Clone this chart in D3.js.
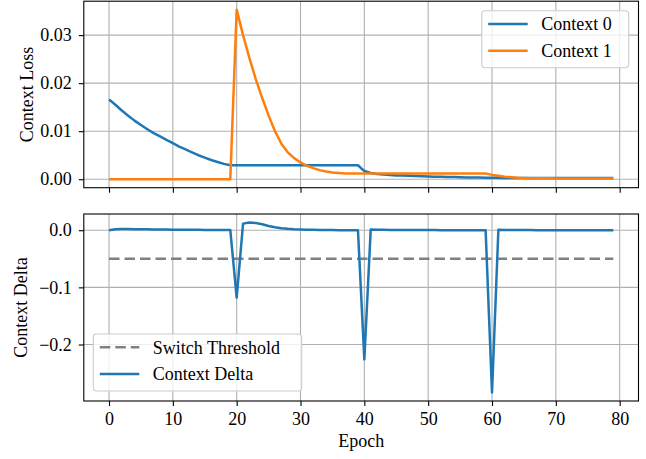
<!DOCTYPE html>
<html><head><meta charset="utf-8">
<script src="https://cdn.jsdelivr.net/npm/d3@7"></script>
<style>
html,body{margin:0;padding:0;background:#fff;}
svg text{font-family:"Liberation Serif","Times New Roman",serif;}
</style></head>
<body><svg id="c" width="646" height="459"></svg>
<script>
// ---- data ----
const epochs = d3.range(80);
const context0 = [
  0.0166,0.0155,0.0143,0.0132,0.0122,0.0113,0.0104,0.0096,0.0089,0.0082,
  0.0075,0.0068,0.0062,0.0056,0.0050,0.0045,0.0040,0.0036,0.0032,0.0029,
  0.0029,0.0029,0.0029,0.0029,0.0029,0.0029,0.0029,0.0029,0.0029,0.0029,
  0.0029,0.0029,0.0029,0.0029,0.0029,0.0029,0.0029,0.0029,0.0029,0.0029,
  0.0017,0.0013,0.0011,0.0010,0.0009,0.0008,0.00078,0.00072,0.00067,0.00062,
  0.00058,0.00054,0.00050,0.00047,0.00044,0.00041,0.00038,0.00036,0.00034,0.00032,
  0.00030,0.00029,0.00028,0.00028,0.00027,0.00027,0.00026,0.00026,0.00026,0.00025,
  0.00025,0.00025,0.00025,0.00024,0.00024,0.00024,0.00024,0.00024,0.00023,0.00023
];
const context1 = [
  0,0,0,0,0,0,0,0,0,0,
  0,0,0,0,0,0,0,0,0,0,
  0.0353,0.0300,0.0252,0.0208,0.0169,0.0133,0.0100,0.0074,0.0056,0.0044,
  0.0035,0.0028,0.0023,0.0019,0.0016,0.0014,0.0013,0.0012,0.0012,0.0012,
  0.0012,0.0012,0.0012,0.0012,0.0012,0.0012,0.0012,0.0012,0.0012,0.0012,
  0.0012,0.0012,0.0012,0.0012,0.0012,0.0012,0.0012,0.0012,0.0012,0.0012,
  0.0009,0.0007,0.0005,0.0004,0.0003,0.00025,0.00022,0.0002,0.00019,0.00018,
  0.00017,0.00017,0.00016,0.00016,0.00016,0.00015,0.00015,0.00015,0.00015,0.00015
];
const delta = [
  0,0.0018,0.0022,0.0021,0.0019,0.0017,0.0015,0.0013,0.0012,0.0011,
  0.0010,0.0009,0.0008,0.0007,0.0006,0.0005,0.0005,0.0004,0.0004,0.0003,
  -0.118,0.0115,0.0135,0.0125,0.0105,0.0075,0.0052,0.0035,0.0024,0.0016,
  0.0011,0.0008,0.0006,0.0004,0.0003,0.0002,0.0001,0.0001,0.0001,0,
  -0.226,0.0012,0.0009,0.0006,0.0005,0.0004,0.0003,0.0003,0.0002,0.0002,
  0.0002,0.0002,0.0001,0.0001,0.0001,0.0001,0.0001,0.0001,0.0001,0.0001,
  -0.284,0.0008,0.0005,0.0004,0.0003,0.0002,0.0002,0.0001,0.0001,0.0001,
  0.0001,0.0001,0.0001,0.0001,0,0,0,0,0,0
];
const threshold = -0.05;
const xTicks = [0,10,20,30,40,50,60,70,80];
const lossTicks = [0,0.01,0.02,0.03];
const deltaTicks = [-0.2,-0.1,0.0];
const lossLabels = ["Context 0","Context 1"];
const deltaLabels = ["Switch Threshold","Context Delta"];

// ---- layout ----
const svg = d3.select("#c");
const L = 83.8, R = 638.5;
const top1 = 1.2, bot1 = 187.7, top2 = 214, bot2 = 401;
const FS = 18;
const C0 = "#1f77b4", C1 = "#ff7f0e", GRID = "#b0b0b0";
const LW = 2.5;

function pad(ext){ const r = ext[1]-ext[0]; return [ext[0]-0.05*r, ext[1]+0.05*r]; }
const x = d3.scaleLinear().domain(pad([0,79])).range([L,R]);
const y1 = d3.scaleLinear().domain(pad(d3.extent(context0.concat(context1)))).range([bot1,top1]);
const y2 = d3.scaleLinear().domain(pad(d3.extent(delta.concat([threshold])))).range([bot2,top2]);

function panel(y, top, bot, ticks){
  const g = svg.append("g");
  g.append("g").selectAll("line").data(xTicks).join("line")
    .attr("x1", d=>x(d)).attr("x2", d=>x(d)).attr("y1", top).attr("y2", bot)
    .attr("stroke", GRID).attr("stroke-width", 1.1);
  g.append("g").selectAll("line").data(ticks).join("line")
    .attr("y1", d=>y(d)).attr("y2", d=>y(d)).attr("x1", L).attr("x2", R)
    .attr("stroke", GRID).attr("stroke-width", 1.1);
  return g;
}
function frame(y, top, bot, ticks, fmt, showX){
  const g = svg.append("g");
  g.append("rect").attr("x", L).attr("y", top).attr("width", R-L).attr("height", bot-top)
    .attr("fill","none").attr("stroke","#000").attr("stroke-width",1.1);
  const ax = g.append("g").attr("transform",`translate(0,${bot})`)
    .call(d3.axisBottom(x).tickValues(xTicks).tickSize(5).tickPadding(6)
      .tickFormat(showX ? d3.format("d") : ""));
  const ay = g.append("g").attr("transform",`translate(${L},0)`)
    .call(d3.axisLeft(y).tickValues(ticks).tickSize(5).tickPadding(7).tickFormat(fmt));
  [ax, ay].forEach(a=>{
    a.select(".domain").remove();
    a.selectAll("line").attr("stroke","#000").attr("stroke-width",1.1);
    a.selectAll("text").attr("font-size",FS).attr("font-family","Liberation Serif").attr("fill","#000");
  });
  return g;
}

// top panel
panel(y1, top1, bot1, lossTicks);
const line1 = d3.line().x((d,i)=>x(epochs[i])).y(d=>y1(d));
svg.append("path").datum(context0).attr("d", line1).attr("fill","none")
  .attr("stroke", C0).attr("stroke-width", LW).attr("stroke-linejoin","round");
svg.append("path").datum(context1).attr("d", line1).attr("fill","none")
  .attr("stroke", C1).attr("stroke-width", LW).attr("stroke-linejoin","round");
frame(y1, top1, bot1, lossTicks, d3.format(".2f"), false);

// bottom panel
panel(y2, top2, bot2, deltaTicks);
svg.append("path").datum([0,79]).attr("d", d3.line().x(d=>x(d)).y(()=>y2(threshold)))
  .attr("fill","none").attr("stroke","#808080").attr("stroke-width",LW).attr("stroke-dasharray","10.5,5");
const line2 = d3.line().x((d,i)=>x(epochs[i])).y(d=>y2(d));
svg.append("path").datum(delta).attr("d", line2).attr("fill","none")
  .attr("stroke", C0).attr("stroke-width", LW).attr("stroke-linejoin","round");
const minusFmt = d => (d<0 ? "\u2212" : "") + d3.format(".1f")(Math.abs(d));
frame(y2, top2, bot2, deltaTicks, minusFmt, true);

// axis labels
svg.append("text").attr("transform",`translate(32.5,${(top1+bot1)/2}) rotate(-90)`)
  .attr("text-anchor","middle").attr("font-size",FS).text("Context Loss");
svg.append("text").attr("transform",`translate(26.5,${(top2+bot2)/2}) rotate(-90)`)
  .attr("text-anchor","middle").attr("font-size",FS).text("Context Delta");
svg.append("text").attr("x",(L+R)/2).attr("y",447).attr("text-anchor","middle")
  .attr("font-size",FS).text("Epoch");

// legends
function legend(x0, y0, w, h, items){
  const g = svg.append("g");
  g.append("rect").attr("x",x0).attr("y",y0).attr("width",w).attr("height",h).attr("rx",3.5)
    .attr("fill","#fff").attr("fill-opacity",0.8).attr("stroke","#cccccc").attr("stroke-width",1.1);
  items.forEach((it,i)=>{
    const yy = y0 + 13.3 + i*26.7;
    g.append("line").attr("x1",x0+6.5).attr("x2",x0+46).attr("y1",yy).attr("y2",yy)
      .attr("stroke",it.color).attr("stroke-width",it.w)
      .attr("stroke-dasharray",it.dash||null);
    g.append("text").attr("x",x0+59.5).attr("y",yy+6.2).attr("font-size",FS).text(it.label);
  });
}
legend(481.7, 10.7, 147, 57, [
  {label:lossLabels[0], color:C0, w:LW},
  {label:lossLabels[1], color:C1, w:LW}
]);
legend(93.3, 334, 208.4, 57, [
  {label:deltaLabels[0], color:"#808080", w:LW, dash:"10.5,5"},
  {label:deltaLabels[1], color:C0, w:LW}
]);
</script></body></html>
